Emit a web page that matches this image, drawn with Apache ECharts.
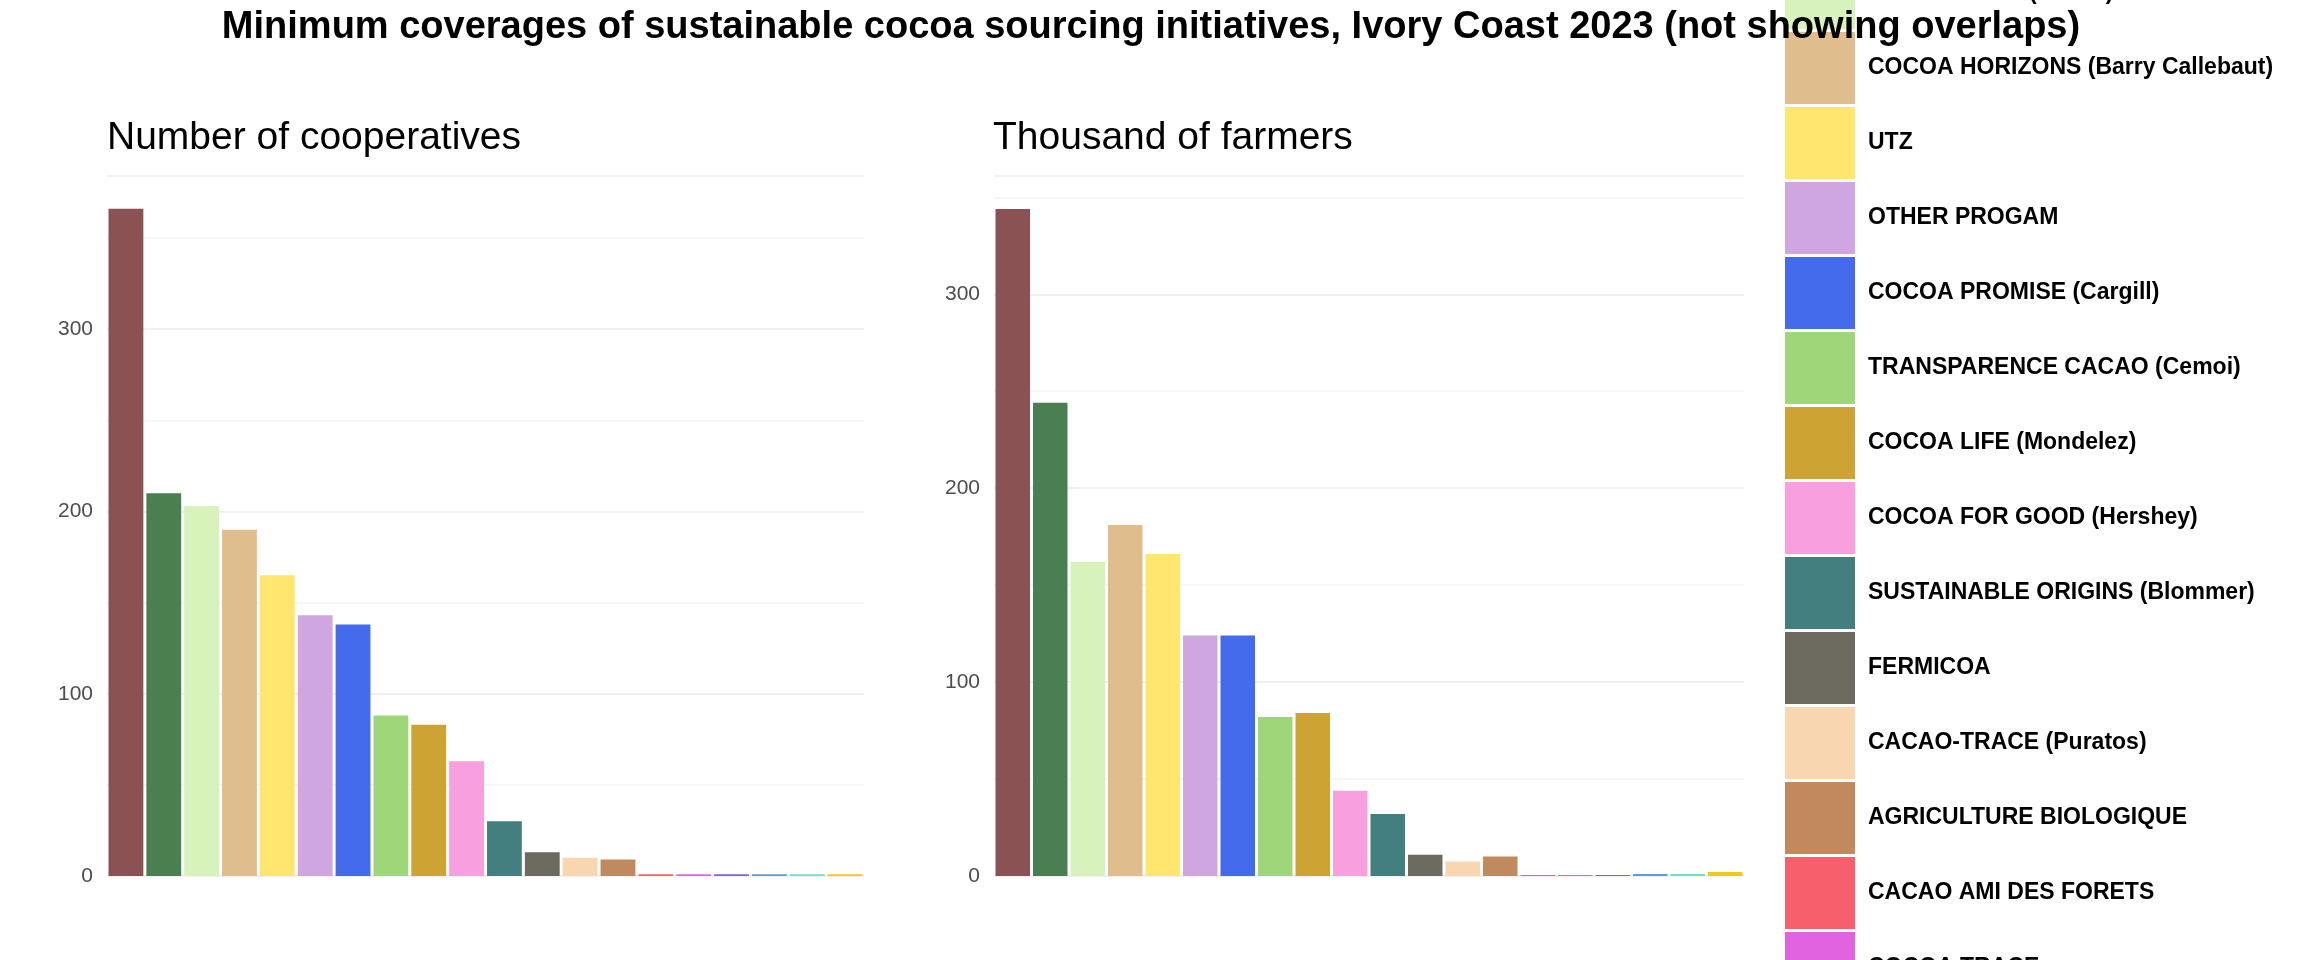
<!DOCTYPE html>
<html><head><meta charset="utf-8">
<script src="https://cdn.jsdelivr.net/npm/echarts@6/dist/echarts.min.js"></script>
<style>html,body{margin:0;background:#fff}#main{width:2304px;height:960px}</style>
</head><body><div id="main"></div>
<script>
// programmes, in bar order (first three are cut off above the legend in the original)
var programs = ['RAINFOREST ALLIANCE', 'FAIRTRADE', 'COCOA PLAN (Nestle)', 'COCOA HORIZONS (Barry Callebaut)', 'UTZ',
  'OTHER PROGAM', 'COCOA PROMISE (Cargill)', 'TRANSPARENCE CACAO (Cemoi)', 'COCOA LIFE (Mondelez)',
  'COCOA FOR GOOD (Hershey)', 'SUSTAINABLE ORIGINS (Blommer)', 'FERMICOA', 'CACAO-TRACE (Puratos)',
  'AGRICULTURE BIOLOGIQUE', 'CACAO AMI DES FORETS', 'COCOA TRACE', 'FARMER FIRST', 'SUSTAINABLE COCOA', 'COCOA CHARTER', 'OTHER'];
var colors = ['#8B5254', '#4A7F52', '#D8F2BC', '#DFBD8C', '#FFE66E', '#CFA6E0', '#436BEB', '#A0D67A', '#CDA333',
  '#F79FDF', '#447F7F', '#6D6A5F', '#F7D6B0', '#C08A5E', '#F75F6C', '#E163E0', '#8660E0', '#6398E0', '#6EE0C6', '#F0C818'];
var cooperatives = [366, 210, 203, 190, 165, 143, 138, 88, 83, 63, 30, 13, 10, 9, 1, 1, 1, 1, 1, 1];
var farmers = [344, 244, 162, 181, 166, 124, 124, 82, 84, 44, 32, 11, 7.5, 10, 0.5, 0.5, 0.5, 1, 1, 2];

var myChart = echarts.init(document.getElementById('main'));

function yAxis(idx, max) {
  return {
    gridIndex: idx, type: 'value', min: 0, max: max, interval: 50,
    axisLine: {show: false}, axisTick: {show: false},
    axisLabel: {color: '#4d4d4d', fontSize: 21, fontFamily: 'Liberation Sans', margin: 14, showMaxLabel: false,
      formatter: function (v) { return v % 100 === 0 ? v : ''; }},
    splitLine: {lineStyle: {color: ['#ebebeb', '#f3f3f3'], width: 1.5}}
  };
}
function xAxis(idx) {
  return {gridIndex: idx, type: 'category', data: programs, show: false};
}

var series = [];
programs.forEach(function (name, i) {
  [cooperatives, farmers].forEach(function (arr, g) {
    var d = programs.map(function (p, j) { return j === i ? arr[j] : '-'; });
    series.push({
      name: name, type: 'bar', xAxisIndex: g, yAxisIndex: g, stack: 'g' + g,
      data: d, barCategoryGap: '8%', itemStyle: {color: colors[i]}
    });
  });
});

var options = {
  animation: false,
  title: [
    {text: 'Minimum coverages of sustainable cocoa sourcing initiatives, Ivory Coast 2023 (not showing overlaps)',
      left: 1146, textAlign: 'center', top: 4,
      textStyle: {fontSize: 38, fontWeight: 'bold', color: '#000', fontFamily: 'Liberation Sans'}},
    {text: 'Number of cooperatives', left: 102, top: 114,
      textStyle: {fontSize: 39, fontWeight: 'normal', color: '#000', fontFamily: 'Liberation Sans'}},
    {text: 'Thousand of farmers', left: 988, top: 114,
      textStyle: {fontSize: 39, fontWeight: 'normal', color: '#000', fontFamily: 'Liberation Sans'}}
  ],
  legend: {
    orient: 'vertical', left: 1780, top: -198, height: 3000, itemWidth: 70, itemHeight: 72, itemGap: 3,
    selectedMode: false, icon: 'rect', data: programs,
    textStyle: {fontSize: 23, fontWeight: 'bold', color: '#000', fontFamily: 'Liberation Sans', padding: [0, 0, 0, 8]}
  },
  grid: [
    {left: 107, top: 176, width: 757, bottom: 84},
    {left: 994, top: 176, width: 750, bottom: 84}
  ],
  xAxis: [xAxis(0), xAxis(1)],
  yAxis: [yAxis(0, 384), yAxis(1, 361)],
  series: series
};
myChart.setOption(options);
</script>
</body></html>
